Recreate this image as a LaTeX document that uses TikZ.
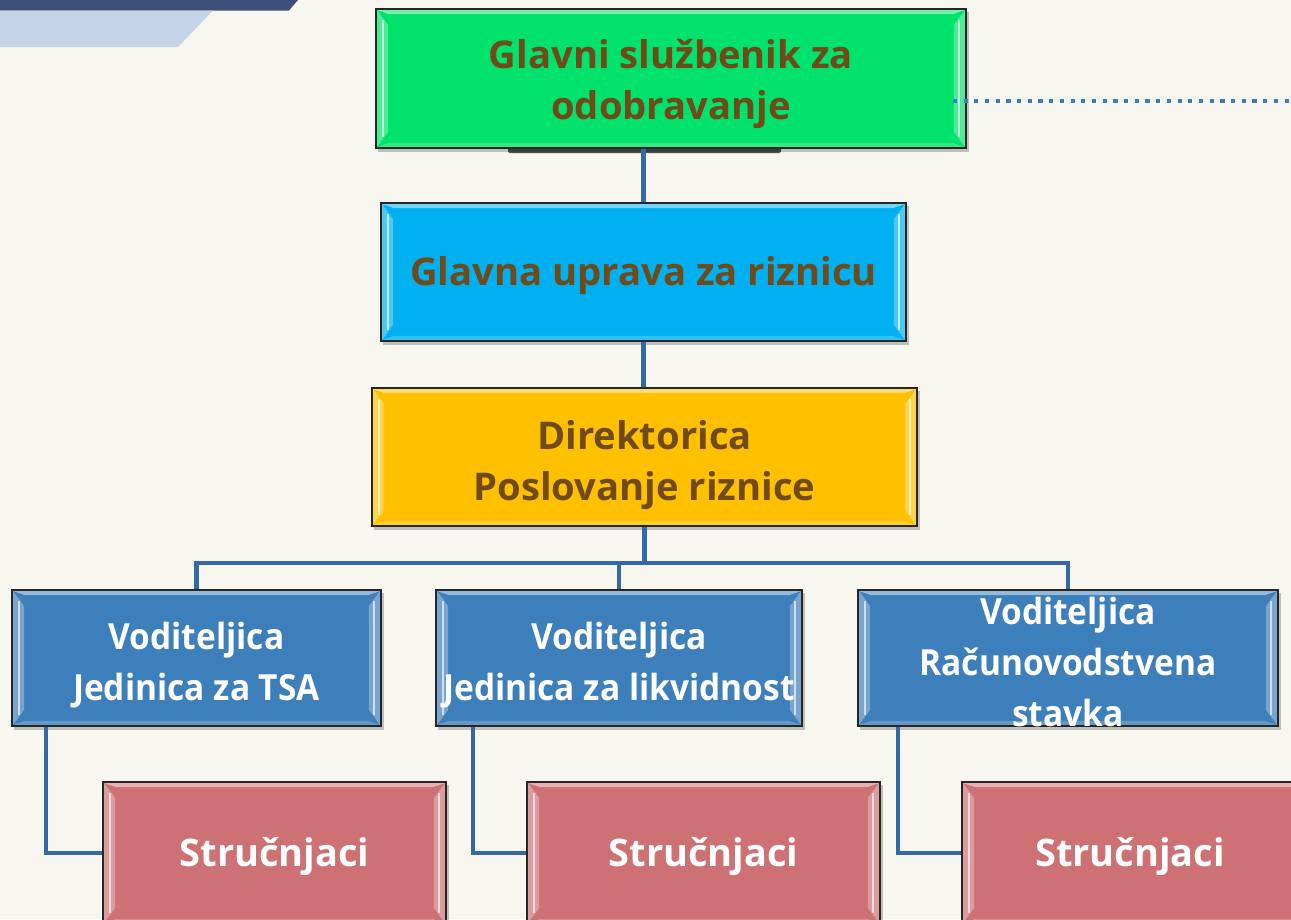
\documentclass[tikz,border=0pt]{standalone}
\usepackage{fontspec}
\setmainfont{Open Sans}
\newfontfamily\narrowfont{Open Sans}[FakeStretch=0.93]
\usetikzlibrary{fit}
\definecolor{navy}{HTML}{3E5079}
\definecolor{lband}{HTML}{C6D4E7}
\definecolor{bgc}{HTML}{F7F6EF}
\definecolor{conn}{HTML}{3569A3}
\definecolor{dotc}{HTML}{3B7DC3}
\definecolor{brownt}{HTML}{704A18}
\definecolor{gcol}{HTML}{00E26B}
\definecolor{ccol}{HTML}{00B0F0}
\definecolor{ycol}{HTML}{FFC000}
\definecolor{bcol}{HTML}{3D7FBA}
\definecolor{rcol}{HTML}{CD7175}
\tikzset{
  boxbase/.style={draw=black!85, line width=1.6pt, inner sep=0pt},
  conline/.style={draw=conn, line width=4.5pt},
  dotline/.style={draw=dotc, line width=4.2pt, dash pattern=on 4.2pt off 6.5pt},
  txtbrown/.style={font=\bfseries\fontsize{38.2}{51}\selectfont, text=brownt, align=center, inner sep=0pt},
  txtwhite/.style={font=\bfseries\fontsize{38}{51}\selectfont, text=white, align=center, inner sep=0pt},
  txtwhitenarrow/.style={font=\narrowfont\bfseries\fontsize{36}{51}\selectfont, text=white, align=center, inner sep=0pt},
}
\newcommand\orgbox[6]{%
  \fill[black,opacity=.22] (#2+2,#3+3) rectangle (#4+3,#5+4);
  \node[boxbase, fill=#6, fit={(#2,#3) (#4,#5)}] (#1) {};
  % top bevel
  \fill[#6!55!white] ([shift={(2,2)}]#1.north west) -- ([shift={(-2,2)}]#1.north east)
     -- ([shift={(-14,6)}]#1.north east) -- ([shift={(14,6)}]#1.north west) -- cycle;
  % bottom bevel
  \fill[#6!80!white] ([shift={(2,-2)}]#1.south west) -- ([shift={(-2,-2)}]#1.south east)
     -- ([shift={(-14,-6)}]#1.south east) -- ([shift={(14,-6)}]#1.south west) -- cycle;
  % left bevel
  \fill[#6!70!white] ([shift={(2,2)}]#1.north west) -- ([shift={(13,17)}]#1.north west)
     -- ([shift={(13,-17)}]#1.south west) -- ([shift={(2,-2)}]#1.south west) -- cycle;
  \draw[white, line width=1.8pt, opacity=.65] ([shift={(8,12)}]#1.north west) -- ([shift={(8,-12)}]#1.south west);
  % right bevel
  \fill[#6!70!white] ([shift={(-2,2)}]#1.north east) -- ([shift={(-13,17)}]#1.north east)
     -- ([shift={(-13,-17)}]#1.south east) -- ([shift={(-2,-2)}]#1.south east) -- cycle;
  \draw[white, line width=1.8pt, opacity=.65] ([shift={(-8,12)}]#1.north east) -- ([shift={(-8,-12)}]#1.south east);
}
\begin{document}
\begin{tikzpicture}[x=1pt, y=-1pt]
\useasboundingbox (0,0) rectangle (1291,919);
\clip (0,0) rectangle (1291,919);
\fill[bgc] (0,0) rectangle (1291,919);
% banner
\fill[navy] (0,0) -- (298,0) -- (289,10.5) -- (0,10.5) -- cycle;
\fill[lband] (0,10.5) -- (213,10.5) -- (178,47) -- (0,47) -- cycle;

\coordinate (bus) at (645,563);
\coordinate (dotend) at (1291,101);

% dark shadow bar under top box
\fill[black!80, opacity=.85, rounded corners=2pt] (508,145) rectangle (781,153);

% boxes
\orgbox{g}{376}{9}{966}{148}{gcol}
\orgbox{b}{381}{203}{906}{341}{ccol}
\orgbox{y}{372}{388}{917}{526}{ycol}
\orgbox{m1}{12}{590}{381}{726}{bcol}
\orgbox{m2}{436}{590}{802}{726}{bcol}
\orgbox{m3}{858}{590}{1278}{726}{bcol}
\orgbox{s1}{103}{782}{446}{924}{rcol}
\orgbox{s2}{527}{782}{880}{924}{rcol}
\orgbox{s3}{962}{782}{1310}{924}{rcol}

% connectors
\draw[conline] (b.north) -- (b.north |- g.south);
\draw[conline] (b.south) -- (b.south |- y.north);
\draw[conline] (y.south) -- (y.south |- bus);
\draw[conline] (m1.north) |- (bus) -| (m3.north);
\draw[conline] (m2.north) -- (m2.north |- bus);
\draw[conline] ([xshift=35pt]m1.south west) |- (s1.west);
\draw[conline] ([xshift=38pt]m2.south west) |- (s2.west);
\draw[conline] ([xshift=41pt]m3.south west) |- (s3.west);

% dotted line
\path (g.east |- dotend) ++(-14,0) coordinate (dotstart);
\draw[dotline] (dotstart) -- (dotend);

% texts
\node[txtbrown] (gtx) at ([yshift=-5pt]g.center) {Glavni službenik za\\odobravanje};
\node[txtbrown] (btx) at ([yshift=-4pt]b.center) {Glavna uprava za riznicu};
\node[txtbrown] (ytx) at ([yshift=-8pt]y.center) {Direktorica\\Poslovanje riznice};
\node[txtwhitenarrow] (m1tx) at ([yshift=-7pt]m1.center) {Voditeljica\\Jedinica za TSA};
\node[txtwhitenarrow] (m2tx) at ([yshift=-7pt]m2.center) {Voditeljica\\Jedinica za likvidnost};
\node[txtwhitenarrow] (m3tx) at ([yshift=-4pt]m3.center) {Voditeljica\\Računovodstvena\\stavka};
\node[txtwhite] (s1tx) at (s1.center |- 0,856) {Stručnjaci};
\node[txtwhite] (s2tx) at (s2.center |- 0,856) {Stručnjaci};
\node[txtwhite] (s3tx) at ([xshift=-6pt]s3.center |- 0,856) {Stručnjaci};
\end{tikzpicture}
\end{document}
